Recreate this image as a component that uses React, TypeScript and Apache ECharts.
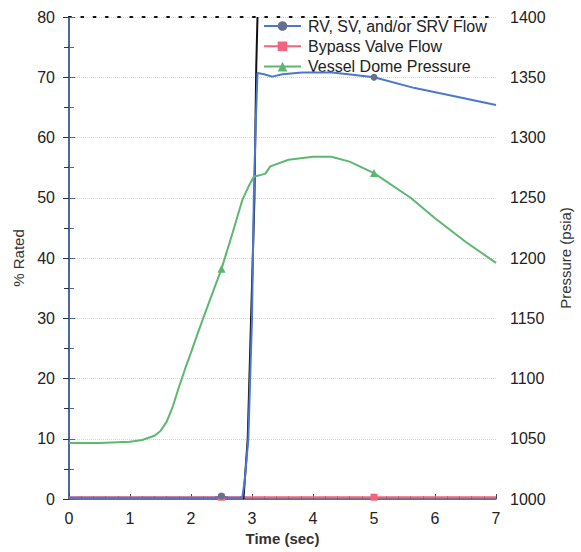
import React, { useEffect, useRef } from "react";
import * as echarts from "echarts";

// RV/SV/SRV flow (% rated)
const flowT = [0, 1, 2, 2.4, 2.5, 2.6, 2.84, 2.88, 2.94, 3.0, 3.03, 3.06, 3.09, 3.2, 3.33, 3.5, 3.82, 4.31, 4.58, 5.0, 5.67, 6.3, 7.0];
const flowV = [0.2, 0.2, 0.2, 0.2, 0.5, 0.2, 0.2, 3, 10, 30, 50, 62, 70.7, 70.5, 70.1, 70.5, 70.8, 70.8, 70.5, 70.0, 68.2, 66.9, 65.4];
// Bypass valve flow (% rated)
const bypassT = [0, 2.5, 5, 7];
const bypassV = [0.3, 0.3, 0.3, 0.3];
// Unlabelled black trace
const blackT = [2.86, 2.93, 3.04, 3.07, 3.09];
const blackV = [0, 10, 50, 72, 80];
// Vessel dome pressure (psia)
const pressT = [0, 0.5, 1.0, 1.2, 1.4, 1.5, 1.6, 1.7, 1.8, 1.9, 2.0, 2.1, 2.25, 2.5, 2.68, 2.84, 2.95, 3.03, 3.15, 3.22, 3.3, 3.6, 4.0, 4.3, 4.6, 5.0, 5.6, 6.0, 6.5, 7.0];
const pressV = [1046.5, 1046.5, 1047.5, 1049, 1052.5, 1056.5, 1064, 1076.5, 1092.5, 1107.5, 1121.5, 1136, 1157, 1191, 1220.5, 1248, 1260, 1267.5, 1269, 1270, 1276, 1281.5, 1284, 1284, 1280, 1270.5, 1250, 1233, 1213.5, 1196];

const markerTimes = [2.5, 5];
const seriesNames = ["RV, SV, and/or SRV Flow", "Bypass Valve Flow", "Vessel Dome Pressure"];

function withMarkers(ts: number[], vs: number[]) {
  return ts.map((t, i) =>
    markerTimes.includes(t) ? { value: [t, vs[i]] } : { value: [t, vs[i]], symbol: "none" }
  );
}

export default function App() {
  const ref = useRef<HTMLDivElement>(null);
  useEffect(() => {
    if (!ref.current) return;
    const chart = echarts.init(ref.current, null, { renderer: "svg" });
    const font = "Liberation Sans, Arial, sans-serif";
    chart.setOption({
      animation: false,
      backgroundColor: "#fff",
      textStyle: { fontFamily: font },
      grid: { left: 69, right: 83, top: 17, bottom: 53 },
      legend: {
        left: 263,
        top: 18,
        orient: "vertical",
        itemWidth: 37,
        itemHeight: 12,
        itemGap: 4.3,
        backgroundColor: "#fff",
        padding: 0,
        data: seriesNames,
        textStyle: { fontSize: 16, color: "#222", fontFamily: font, padding: [0, 0, 0, 2] },
      },
      xAxis: [
        {
          type: "value",
          min: 0,
          max: 7,
          interval: 1,
          name: "Time (sec)",
          nameLocation: "middle",
          nameGap: 32,
          nameTextStyle: { fontSize: 15, fontWeight: "bold", color: "#333" },
          axisLine: { show: true, onZero: false, lineStyle: { color: "#3a4a70", width: 1.5 } },
          axisTick: { show: true, inside: true, length: 5, lineStyle: { color: "#3a4a70" } },
          minorTick: { show: true, splitNumber: 5, length: 3, lineStyle: { color: "#3a4a70" } },
          axisLabel: { fontSize: 16, color: "#222", margin: 11 },
          splitLine: { show: false },
        },
        {
          type: "value",
          position: "top",
          min: 0,
          max: 7,
          interval: 1,
          axisLine: { show: true, onZero: false, lineStyle: { color: "#111", width: 2, type: [2, 10.26] } },
          axisTick: { show: false },
          axisLabel: { show: false },
          splitLine: { show: false },
        },
      ],
      yAxis: [
        {
          type: "value",
          min: 0,
          max: 80,
          interval: 10,
          name: "% Rated",
          nameLocation: "middle",
          nameGap: 42,
          nameTextStyle: { fontSize: 15, color: "#333" },
          axisLine: { show: true, lineStyle: { color: "#22334a", width: 1.5 } },
          axisTick: { show: true, length: 6, lineStyle: { color: "#22334a" } },
          minorTick: { show: true, splitNumber: 2, length: 5, lineStyle: { color: "#22334a" } },
          axisLabel: { fontSize: 16, color: "#222", margin: 14 },
          splitLine: { show: true, lineStyle: { color: "#d4d4d4", type: "dotted" } },
        },
        {
          type: "value",
          min: 1000,
          max: 1400,
          interval: 50,
          position: "right",
          name: "Pressure (psia)",
          nameLocation: "middle",
          nameGap: 62,
          nameRotate: 90,
          nameTextStyle: { fontSize: 15, color: "#333" },
          axisLine: { show: true, lineStyle: { color: "#4a68a8", width: 1.5 } },
          axisTick: { show: true, length: 6, lineStyle: { color: "#4a68a8" } },
          minorTick: { show: true, splitNumber: 2, length: 5, lineStyle: { color: "#4a68a8" } },
          axisLabel: { fontSize: 16, color: "#222", margin: 14, formatter: (v: number) => String(v) },
          splitLine: { show: false },
        },
      ],
      series: [
        {
          name: seriesNames[1],
          type: "line",
          yAxisIndex: 0,
          data: withMarkers(bypassT, bypassV),
          symbol: "rect",
          symbolSize: 7,
          lineStyle: { color: "#f2647e", width: 2 },
          itemStyle: { color: "#f2647e" },
          z: 2,
        },
        {
          name: "black",
          type: "line",
          yAxisIndex: 0,
          data: blackT.map((t, i) => [t, blackV[i]]),
          symbol: "none",
          lineStyle: { color: "#111", width: 2 },
          z: 3,
        },
        {
          name: seriesNames[0],
          type: "line",
          yAxisIndex: 0,
          data: withMarkers(flowT, flowV),
          symbol: "circle",
          symbolSize: 7,
          lineStyle: { color: "#4a78d0", width: 2 },
          itemStyle: { color: "#66708e" },
          z: 4,
        },
        {
          name: seriesNames[2],
          type: "line",
          yAxisIndex: 1,
          data: withMarkers(pressT, pressV),
          symbol: "triangle",
          symbolSize: 8,
          lineStyle: { color: "#5cb870", width: 2 },
          itemStyle: { color: "#5cb870" },
          z: 5,
        },
      ],
    });
    return () => chart.dispose();
  }, []);
  return <div ref={ref} style={{ width: 581, height: 552, position: "absolute", left: 0, top: 0 }} />;
}
